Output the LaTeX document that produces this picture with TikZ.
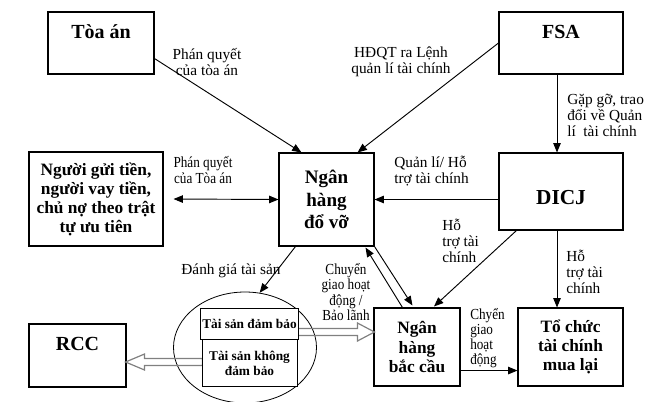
\documentclass[tikz,border=0pt]{standalone}
\usepackage{fontspec}
\setmainfont{Liberation Serif}
\newfontfamily\narrowfont[FakeStretch=0.86]{Liberation Serif}
\usetikzlibrary{arrows.meta,positioning,calc,shapes.geometric}

\begin{document}
\begin{tikzpicture}[x=0.75pt,y=-0.75pt,
  font=\fontsize{11.5}{12}\selectfont,
  box/.style={draw,line width=0.8pt,fill=white,align=center,inner sep=2pt,
              font=\bfseries\fontsize{13}{14.3}\selectfont},
  bigbox/.style={box,font=\bfseries\fontsize{15}{17}\selectfont},
  cell/.style={box,line width=0.7pt,inner sep=1pt,
              font=\bfseries\fontsize{10}{11.3}\selectfont},
  lbl/.style={align=center,inner sep=0pt},
  lbll/.style={align=left,inner sep=0pt,anchor=west},
  small/.style={font=\narrowfont\fontsize{11.5}{11.3}\selectfont},
  arr/.style={-{Triangle[length=7pt,width=5.6pt]},line width=0.7pt},
  arrtwo/.style={{Triangle[length=7pt,width=5.6pt]}-{Triangle[length=7pt,width=5.6pt]},
              line width=0.7pt},
  hollow/.style={draw=black!50,line width=0.9pt,line join=miter}
]
\useasboundingbox (0,0) rectangle (645,401);

\node[bigbox,minimum width=79.5pt,minimum height=46.5pt] (toa) at (101,43)
  {Tòa án\\\mbox{}};
\node[bigbox,minimum width=93pt,minimum height=46.5pt] (fsa) at (561,43)
  {FSA\\\mbox{}};
\node[box,minimum width=100.5pt,minimum height=70.5pt] (nguoi) at (96,199)
  {Người gửi tiền,\\người vay tiền,\\chủ nợ theo trật\\tự ưu tiên};
\node[box,font=\bfseries\fontsize{14.3}{17}\selectfont,
  minimum width=71.25pt,minimum height=69.75pt] (dovo) at (326.5,199.5)
  {Ngân\\hàng\\đổ vỡ};
\node[box,font=\bfseries\fontsize{16}{18}\selectfont,text height=19pt,text depth=0pt,
  minimum width=93pt,minimum height=57.75pt] (dicj) at (561,191.5) {DICJ};
\node[box,minimum width=64.5pt,minimum height=58.5pt] (baccau) at (417,347)
  {Ngân\\hàng\\bắc cầu};
\node[box,minimum width=78.75pt,minimum height=58.5pt] (tochuc) at (570.5,347)
  {Tổ chức\\tài chính\\mua lại};
\node[bigbox,minimum width=72.75pt,minimum height=47.25pt] (rcc) at (77.5,355.5)
  {RCC\\\mbox{}};

\node[ellipse,draw,line width=0.6pt,minimum width=107.25pt,minimum height=83.25pt]
  (tsel) at (245,347.5) {};

\draw[hollow] ($(baccau.west)+(1,-15)$) coordinate (hbc) -- ++(-17,-9) -- ++(0,5.5)
  -- ++(-61,0) -- ++(0,7) -- ++(61,0) -- ++(0,5.5) -- cycle;
\draw[hollow] ($(rcc.east)+(-1,6.5)$) coordinate (hrcc) -- ++(19,-8) -- ++(0,4.5)
  -- ++(58,0) -- ++(0,7) -- ++(-58,0) -- ++(0,4.5) -- cycle;

\node[cell,minimum width=71.25pt,minimum height=23.25pt] (tsdb) at (249.5,323.5)
  {Tài sản đảm bảo};
\node[cell,minimum width=71.25pt,minimum height=35.25pt,below=0pt of tsdb] (tskdb)
  {Tài sản không\\đảm bảo};

\node[lbl] (lqtoa) at (207,62) {Phán quyết\\của tòa án};
\node[lbl] (lhdqt) at (401,62) {HĐQT ra Lệnh\\quản lí tài chính};
\node[lbll] (lgap) at (567,115) {Gặp gỡ, trao\\đổi về Quản\\lí\ \ tài chính};
\node[lbl,small] (lqtoa2) at (203,170) {Phán quyết\\của Tòa án};
\node[lbll] (lql) at (394,171) {Quản lí/ Hỗ\\trợ tài chính};
\node[lbll] (lht1) at (442,241) {Hỗ\\trợ tài\\chính};
\node[lbll] (lht2) at (566,272) {Hỗ\\trợ tài\\chính};
\node[lbll,small] (lcg1) at (470,338) {Chyển\\giao\\hoạt\\động};
\node[lbl,small] (lcg2) at (346,292) {Chuyển\\giao hoạt\\động /\\Bảo lãnh};
\node[lbl] (ldg) at (231,271) {Đánh giá tài sản};

\draw[arr] ($(toa.south east)+(0,-16)$) -- ($(dovo.north west)+(23,0)$);
\draw[arr] (fsa.west) -- ($(dovo.north east)+(-17,0)$);
\draw[arr] ($(fsa.south)+(-4,0)$) -- ($(dicj.north)+(-4,0)$);
\draw[arrtwo] ($(nguoi.east)+(10,0)$) -- (dovo.west);
\draw[arr] (dovo.east -| dicj.west) -- (dovo.east);
\draw[arr] ($(dicj.south west)+(18,0)$) -- ($(baccau.north)+(17,-1)$);
\draw[arr] ($(dicj.south)+(-4,0)$) -- ($(tochuc.north)+(-13.5,0)$);
\draw[arr] ($(baccau.south east)+(0,-16)$) -- ($(tochuc.south west)+(0,-16)$);
\draw[arr] ($(baccau.north west)+(29,0)$) -- ($(dovo.south east)+(-9,1)$);
\draw[arr] (dovo.south east) -- ($(baccau.north west)+(39,-2)$);
\draw[arr] ($(dovo.south west)+(17,0)$) -- (tsel.75);
\end{tikzpicture}
\end{document}
